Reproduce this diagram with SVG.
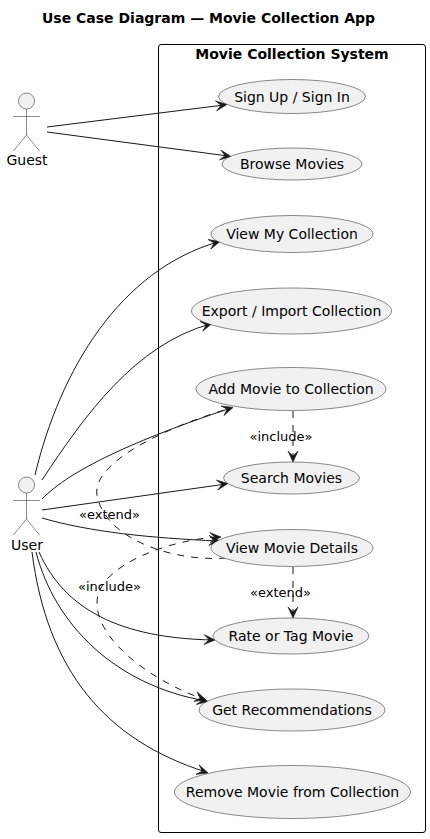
<svg xmlns="http://www.w3.org/2000/svg" width="430" height="839" viewBox="0 0 430 839">
<style>
text{font-family:"DejaVu Sans",sans-serif;fill:#000}
.t{font-size:14px;text-anchor:middle}
.l{font-size:13px;text-anchor:middle}
.b{font-weight:bold;font-size:14px;text-anchor:middle}
.u{fill:#f1f1f1;stroke:#181818;stroke-width:.5}
.a{fill:none;stroke:#181818;stroke-width:.5}
.c{fill:none;stroke:#181818;stroke-width:1}
.d{stroke-dasharray:7 7}
.h{fill:#181818;stroke:#181818;stroke-width:.6}
</style>
<defs>
<path id="ah" d="M0 0L-11 -5L-6 0L-11 5Z"/>
</defs>
<rect width="430" height="839" fill="#fff"/>
<text class="b" x="208.500" y="23">Use Case Diagram — Movie Collection App</text>
<g id="system">
<rect x="158.500" y="44.500" width="267" height="788" rx="2.500" fill="none" stroke="#000" stroke-width="1"/>
<text class="b" x="292" y="59">Movie Collection System</text>
</g>
<g id="connectors">
<path class="c" d="M47 127L224 105"/>
<path class="c" d="M47 132L228 156"/>
<path class="c" d="M35 475C60 370 120 270 218 242"/>
<path class="c" d="M42 480C85 415 135 345 210 324"/>
<path class="c" d="M42 499C70 470 135 440 231 408"/>
<path class="c" d="M42 510L226 484"/>
<path class="c" d="M42 518C90 532 150 538 218 541"/>
<path class="c" d="M39 552C65 610 120 638 213 640"/>
<path class="c" d="M36 552C55 625 115 685 206 701"/>
<path class="c" d="M32 552C47 670 105 740 206 772"/>
<path class="c d" d="M293 411L293 458"/>
<path class="c d" d="M293 567L293 614"/>
<path class="c d" d="M226 558C175 562 105 540 97 495C92 467 150 432 231 408"/>
<path class="c d" d="M217 537C170 540 97 565 97 603C97 640 150 680 203 699"/>
<g class="h">
<use href="#ah" transform="translate(227 104.500) rotate(-7)"/>
<use href="#ah" transform="translate(231 156.500) rotate(8)"/>
<use href="#ah" transform="translate(220 241.500) rotate(-15)"/>
<use href="#ah" transform="translate(212 323.500) rotate(-15)"/>
<use href="#ah" transform="translate(233 407.500) rotate(-17)"/>
<use href="#ah" transform="translate(228 483.500) rotate(-8)"/>
<use href="#ah" transform="translate(220 541) rotate(3)"/>
<use href="#ah" transform="translate(215 640) rotate(2)"/>
<use href="#ah" transform="translate(208 701.500) rotate(10)"/>
<use href="#ah" transform="translate(208 773) rotate(18)"/>
<use href="#ah" transform="translate(293 462) rotate(90)"/>
<use href="#ah" transform="translate(293 618) rotate(90)"/>
<use href="#ah" transform="translate(221 537) rotate(-3)"/>
<use href="#ah" transform="translate(206 700) rotate(18)"/>
</g>
<text class="l" x="109.500" y="519">«extend»</text>
<text class="l" x="109.500" y="591">«include»</text>
<text class="l" x="281" y="441">«include»</text>
<text class="l" x="280.500" y="597">«extend»</text>
</g>
<g id="actor-guest">
<circle class="u" cx="26.500" cy="101" r="8"/>
<path class="a" d="M26.500 109V135M13 116.500H40M26.500 135L13.500 151M26.500 135L39.500 151"/>
<text class="t" x="27" y="165">Guest</text>
</g>
<g id="actor-user">
<circle class="u" cx="26.500" cy="485" r="8"/>
<path class="a" d="M26.500 493V519M13 500.500H40M26.500 519L13.500 535M26.500 519L39.500 535"/>
<text class="t" x="27" y="550">User</text>
</g>
<g id="uc-signup"><ellipse class="u" cx="292" cy="96.500" rx="73.500" ry="17"/><text class="t" x="292" y="101.500">Sign Up / Sign In</text></g>
<g id="uc-browse"><ellipse class="u" cx="292" cy="164" rx="70" ry="16"/><text class="t" x="292" y="169">Browse Movies</text></g>
<g id="uc-mycollection"><ellipse class="u" cx="292" cy="234" rx="81" ry="18.500"/><text class="t" x="292" y="239">View My Collection</text></g>
<g id="uc-export"><ellipse class="u" cx="291.500" cy="311" rx="100" ry="23"/><text class="t" x="291.500" y="316">Export / Import Collection</text></g>
<g id="uc-add"><ellipse class="u" cx="291" cy="389" rx="95" ry="21.500"/><text class="t" x="291" y="394">Add Movie to Collection</text></g>
<g id="uc-search"><ellipse class="u" cx="291.500" cy="478" rx="68" ry="16"/><text class="t" x="291.500" y="483">Search Movies</text></g>
<g id="uc-details"><ellipse class="u" cx="292" cy="548" rx="81" ry="18.500"/><text class="t" x="292" y="553">View Movie Details</text></g>
<g id="uc-rate"><ellipse class="u" cx="291" cy="636" rx="78" ry="18"/><text class="t" x="291" y="641">Rate or Tag Movie</text></g>
<g id="uc-recs"><ellipse class="u" cx="292" cy="710" rx="93" ry="21"/><text class="t" x="292" y="715">Get Recommendations</text></g>
<g id="uc-remove"><ellipse class="u" cx="292.500" cy="792" rx="118" ry="26.500"/><text class="t" x="292.500" y="797">Remove Movie from Collection</text></g>
</svg>
